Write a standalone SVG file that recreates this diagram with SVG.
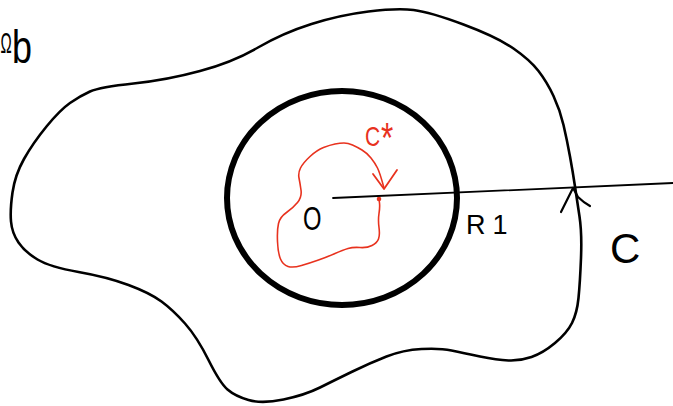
<svg xmlns="http://www.w3.org/2000/svg" width="673" height="406" viewBox="0 0 673 406">
<style>
.ink{fill:none;stroke:#000;stroke-linecap:round;stroke-linejoin:round}
.red{fill:none;stroke:#e8321e;stroke-linecap:round;stroke-linejoin:round}
.lbl{font-family:"Liberation Sans",Arial,sans-serif;fill:#000}
.rlbl{font-family:"Liberation Sans",Arial,sans-serif;fill:#e8321e}
</style>
<rect width="673" height="406" fill="#fff"/>
<g id="region-b">
<path class="ink" stroke-width="2.6" d="M 12.5,192.5 Q 15,175 24,159 Q 33,143 46.5,126.5 Q 60,110 70,103 Q 80,96 90,91.5 Q 100,87 133.5,83.5 Q 167,80 200,71 Q 233,62 258,47.5 Q 283,33 311.5,24 Q 340,15 368.5,11.5 Q 397,8 413.5,10 Q 430,12 463.5,24.5 Q 497,37 513.5,48.5 Q 530,60 538.5,71 Q 547,82 553.5,96 Q 560,110 563.5,125 Q 567,140 570,156.5 Q 573,173 575,186.5 Q 577,200 579.5,216.5 Q 582,233 581,258 Q 580,283 578.5,298 Q 577,313 572,323 Q 567,333 555,343 Q 543,353 531.5,357 Q 520,361 508.5,360.5 Q 497,360 480,356.5 Q 463,353 451.5,350.5 Q 440,348 421.5,349 Q 403,350 386.5,356.5 Q 370,363 352.5,371.5 Q 335,380 320,387.5 Q 305,395 283.5,399.5 Q 262,404 248.5,400 Q 235,396 227.5,389.5 Q 220,383 208.5,360 Q 197,337 185,323.5 Q 173,310 161.5,301.5 Q 150,293 128.5,285 Q 107,277 78.5,272 Q 50,267 37.5,259.5 Q 25,252 18.5,242.5 Q 12,233 11,221.5 Q 10,210 12.5,192.5 Z"/>
<text class="lbl" x="0" y="0" font-size="30" transform="translate(0.5,53) scale(0.5,1)">Ω</text>
<text class="lbl" x="0" y="0" font-size="46" transform="translate(12,63) scale(0.78,1)">b</text>
</g>
<g id="circle-R1">
<ellipse class="ink" cx="342" cy="198" rx="115" ry="107" stroke-width="6"/>
<text class="lbl" x="466" y="234" font-size="27" letter-spacing="7">R1</text>
</g>
<g id="origin-O">
<text class="lbl" x="0" y="0" font-size="33" transform="translate(303,230) scale(0.72,1)">O</text>
</g>
<g id="curve-Cstar">
<path class="red" stroke-width="1.6" d="M 379,199 L 379.5,203 Q 380,207 379,213.5 Q 378,220 379,227.5 Q 380,235 378.5,239 Q 377,243 372,245.5 Q 367,248 360,247.5 Q 353,247 348,248.5 Q 343,250 335,253.5 Q 327,257 318.5,260 Q 310,263 301.5,265.5 Q 293,268 288,266.5 Q 283,265 280.5,259 Q 278,253 277.5,241.5 Q 277,230 278.5,223.5 Q 280,217 286.5,212.5 Q 293,208 297.5,202.5 Q 302,197 301,190 Q 300,183 299,178 Q 298,173 300.5,168 Q 303,163 310,156.5 Q 317,150 323.5,147.5 Q 330,145 335,144 Q 340,143 344,143 Q 348,143 352.5,145 Q 357,147 362,150 Q 367,153 371,158 Q 375,163 377.5,168 Q 380,173 384,188"/>
<path class="red" stroke-width="1.8" d="M 373,174 L 384,189 L 397,170"/>
<circle cx="379" cy="199" r="2.3" fill="#e8321e"/>
<text class="rlbl" x="0" y="0" font-size="28" transform="translate(365,146) scale(0.75,1)">C<tspan font-size="42" dx="1" dy="6">*</tspan></text>
</g>
<g id="boundary-C">
<text class="lbl" x="610" y="263" font-size="42">C</text>
</g>
<g id="connectors">
<path class="ink" stroke-width="1.8" d="M 333,198 L 673,183"/>
<path class="ink" stroke-width="2.2" d="M 561,212 L 573,188 L 578,197 Q 583,202 590,206"/>
</g>
</svg>
